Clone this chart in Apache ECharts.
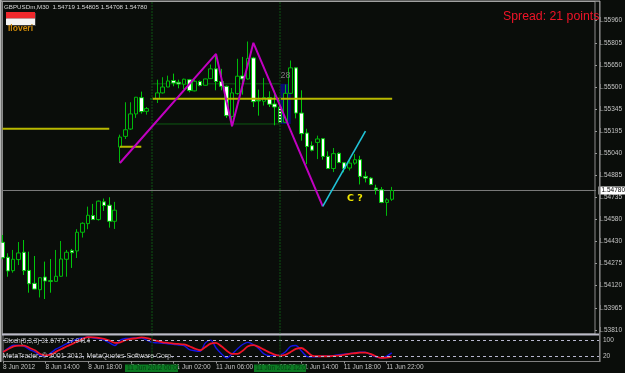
<!DOCTYPE html>
<html>
<head>
<meta charset="utf-8">
<style>html,body{margin:0;padding:0;background:#0a0d0a;overflow:hidden}#chart{width:625px;height:373px}</style>
<script src="https://cdn.jsdelivr.net/npm/echarts@6/dist/echarts.min.js"></script>
</head>
<body>
<div id="chart"></div>
<script>
// GBPUSDm M30 candles, one row per bar: open, close, low, high
const candles = [
[1.54420,1.54313,1.54302,1.54471],[1.54316,1.54221,1.54181,1.54344],[1.54223,1.54302,1.54209,1.54367],[1.54300,1.54346,1.54262,1.54422],
[1.54351,1.54223,1.54193,1.54436],[1.54225,1.54132,1.54070,1.54355],[1.54135,1.54095,1.54093,1.54325],[1.54091,1.54174,1.54037,1.54177],
[1.54179,1.54151,1.54026,1.54286],[1.54153,1.54149,1.54070,1.54304],[1.54149,1.54184,1.54147,1.54367],[1.54184,1.54304,1.54181,1.54429],
[1.54302,1.54351,1.54181,1.54367],[1.54362,1.54348,1.54242,1.54374],[1.54360,1.54490,1.54311,1.54511],[1.54490,1.54552,1.54453,1.54559],
[1.54550,1.54608,1.54511,1.54668],[1.54606,1.54578,1.54576,1.54687],[1.54578,1.54706,1.54571,1.54710],[1.54701,1.54675,1.54638,1.54724],
[1.54678,1.54566,1.54522,1.54733],[1.54566,1.54643,1.54513,1.54701],[1.55082,1.55151,1.54970,1.55168],[1.55156,1.55202,1.55138,1.55393],
[1.55207,1.55312,1.55202,1.55393],[1.55312,1.55428,1.55284,1.55430],[1.55425,1.55328,1.55314,1.55467],[1.55330,1.55349,1.55307,1.55360],
[1.55416,1.55416,1.55412,1.55420],[1.55418,1.55458,1.55388,1.55550],[1.55458,1.55499,1.55453,1.55567],[1.55499,1.55541,1.55497,1.55578],
[1.55544,1.55527,1.55504,1.55592],[1.55532,1.55520,1.55490,1.55550],[1.55518,1.55553,1.55485,1.55557],[1.55550,1.55474,1.55462,1.55555],
[1.55472,1.55539,1.55469,1.55550],[1.55537,1.55509,1.55504,1.55544],[1.55511,1.55555,1.55509,1.55557],[1.55557,1.55625,1.55555,1.55655],
[1.55625,1.55537,1.55476,1.55725],[1.55537,1.55504,1.55476,1.55625],[1.55504,1.55300,1.55284,1.55509],[1.55295,1.55458,1.55226,1.55492],
[1.55453,1.55574,1.55446,1.55695],[1.55576,1.55555,1.55446,1.55708],[1.55555,1.55697,1.55550,1.55815],[1.55701,1.55397,1.55360,1.55708],
[1.55407,1.55402,1.55300,1.55481],[1.55400,1.55425,1.55370,1.55562],[1.55425,1.55379,1.55360,1.55469],[1.55381,1.55360,1.55233,1.55474],
[1.55360,1.55254,1.55249,1.55423],[1.55254,1.55455,1.55249,1.55516],[1.55455,1.55632,1.55453,1.55683],[1.55632,1.55318,1.55281,1.55636],
[1.55318,1.55175,1.55126,1.55476],[1.55179,1.55086,1.54963,1.55209],[1.55091,1.55060,1.55052,1.55121],[1.55114,1.55138,1.54998,1.55161],
[1.55140,1.55017,1.54994,1.55145],[1.55017,1.54933,1.54929,1.55052],[1.54933,1.55036,1.54908,1.55075],[1.55038,1.54975,1.54970,1.55045],
[1.54973,1.54933,1.54906,1.54975],[1.54936,1.54970,1.54919,1.54994],[1.54970,1.54994,1.54959,1.55033],[1.54994,1.54878,1.54822,1.55021],
[1.54878,1.54866,1.54836,1.54912],[1.54866,1.54822,1.54817,1.54873],[1.54797,1.54785,1.54752,1.54820],[1.54785,1.54697,1.54692,1.54804],
[1.54697,1.54715,1.54604,1.54727],[1.54719,1.54780,1.54708,1.54805]
];

// Stochastic(5,3,3) main and signal lines
const stochMain = [35.4,50,60,59,56.4,44,35.4,21.8,19.4,31.7,46.5,56.4,66,75,84,87,91,87,85,79,69,59,79,85,86,87,87,79,71,69,67.5,66,64,61,59,44,40,38,69,79,
50,29,13.2,28,46.5,63,71,63,48,28,21.8,21.8,24.3,35.4,56.4,59,40,19.4,17,18,19.4,19.4,21.8,25.5,26.8,29,31.7,34,34,25.5,17,13.2,19.4,31.6777];
const stochSignal = [35.4,46.5,56.4,59,59,50,41.6,28,23,25.5,36.6,46.5,56.4,65,75,84,90,89,87,84,77.4,69,71,79,84,86,89,87,81,76,71,69,66,65,63,56.4,48,41.6,54,66,
69,56.4,40,28,28,40,56.4,61,54,44,34,25.5,21.8,24.3,35.4,46.5,50,38,21.8,19.4,19.4,19.4,20.6,21.8,24.3,28,30.5,33,33,28,19.4,13.2,14.4,17.9414];

// Hand-drawn analysis objects as [bar index, price]
const zigzag = [[22,1.54971],[40,1.55729],[43,1.55226],[47,1.55806],[60,1.54669]];
const waveC = [[60,1.54669],[68,1.55193]];
const levelA = [[0,1.55209],[20,1.55209]];
const levelB = [[22,1.55084],[26,1.55084]];
const levelC = [[28,1.55418],[73,1.55418]];
const boxTop = [[28,1.55521],[52,1.55521]];
const boxBottom = [[28,1.55242],[52,1.55242]];
const fibZone = {fromBar:'52', toBar:'54', high:1.55521, low:1.55242};

const lastPrice = 1.54780;
const separators = ['28','52'];
const priceTicks = [1.55960,1.55805,1.55650,1.55500,1.55345,1.55195,1.55040,1.54885,1.54735,1.54580,1.54430,1.54275,1.54120,1.53965,1.53810];
const stochLevels = [80,20];
const stochLevelText = {80:'100',20:'20'};
const timeLabels = {0:'8 Jun 2012',8:'8 Jun 14:00',16:'8 Jun 18:00',24:'8 Jun 22:00',32:'11 Jun 02:00',40:'11 Jun 06:00',48:'11 Jun 10:00',56:'11 Jun 14:00',64:'11 Jun 18:00',72:'11 Jun 22:00'};

// Bar slots, including the empty space to the right of the last candle.
// The candle axis keeps one extra slot of its own, so it lists one name fewer.
const categories = [];
for (let i = 0; i < 113; i++) categories.push(String(i));
const candleCategories = categories.slice(0, 112);

const FONT = '"Liberation Sans", Arial, sans-serif';
const BG = '#0a0d0a';
const GREY = '#c4c4c4';
const isLabelled = i => timeLabels[i] !== undefined;

function overlay(name, data, color, width, z) {
  return {name, type:'line', data, xAxisIndex:0, yAxisIndex:0, showSymbol:false, symbol:'none', connectNulls:true,
    silent:true, animation:false, z, lineStyle:{color, width, cap:'butt'}};
}
function vline(color) {
  return {silent:true, symbol:'none', animation:false, label:{show:false},
    lineStyle:{color, width:1.5, type:[2,1]}, data:separators.map(v => ({xAxis:v}))};
}
function text(x, y, str, size, color, extra) {
  return {type:'text', z:200, x, y, style:Object.assign({text:str, font:size+'px '+FONT, fill:color, textVerticalAlign:'middle'}, extra||{})};
}
function dateTag(x, width, str) {
  return [
    {type:'rect', z:190, shape:{x, y:364.5, width, height:7.5}, style:{fill:'#0b7a22'}},
    text(x+2, 368.5, str, 6.5, '#063d12')
  ];
}

const chart = echarts.init(document.getElementById('chart'), null, {renderer:'canvas'});
chart.setOption({
  animation:false,
  backgroundColor:BG,
  grid:[
    {left:2.5, width:597, top:1.5, height:332.5, show:true, backgroundColor:BG, borderColor:'#8c8c8c', borderWidth:1},
    {left:2.5, width:597, top:334.5, height:27, show:true, backgroundColor:BG, borderColor:'#808080', borderWidth:1}
  ],
  xAxis:[
    {type:'category', gridIndex:0, data:candleCategories, boundaryGap:false, axisLine:{show:false}, axisTick:{show:false}, axisLabel:{show:false}, splitLine:{show:false}},
    {type:'category', gridIndex:1, data:categories, boundaryGap:false, axisLine:{show:false},
      axisTick:{show:true, interval:isLabelled, length:2, lineStyle:{color:'#9a9a9a'}},
      axisLabel:{show:true, interval:isLabelled, align:'left', margin:2.5, color:GREY, fontFamily:FONT, fontSize:6.5, formatter:(v,i)=>timeLabels[i]||''},
      splitLine:{show:false}}
  ],
  yAxis:[
    {type:'value', gridIndex:0, position:'right', min:1.53783, max:1.56093, axisLine:{show:false},
      axisTick:{show:true, length:2, customValues:priceTicks, lineStyle:{color:'#9a9a9a'}},
      axisLabel:{show:true, customValues:priceTicks, margin:3.5, color:GREY, fontFamily:FONT, fontSize:6.5, formatter:v=>v.toFixed(5)},
      splitLine:{show:false}},
    {type:'value', gridIndex:1, position:'right', min:0, max:100, axisLine:{show:false},
      axisTick:{show:false},
      axisLabel:{show:true, customValues:stochLevels, margin:3.5, color:GREY, fontFamily:FONT, fontSize:6.5, formatter:v=>stochLevelText[v]},
      splitLine:{show:false}}
  ],
  series:[
    // Shaded zone and thin box lines sit underneath the candles
    {name:'zone', type:'line', data:[], xAxisIndex:0, yAxisIndex:0, z:1, silent:true,
      markArea:{silent:true, animation:false, itemStyle:{color:'#0a0a6e', opacity:1},
        data:[[{xAxis:fibZone.fromBar, yAxis:fibZone.high},{xAxis:fibZone.toBar, yAxis:fibZone.low}]]},
      markLine:vline('#0c3d10')},
    overlay('boxTop', boxTop, '#0d5a12', 1, 1),
    overlay('boxBottom', boxBottom, '#0d5a12', 1, 1),
    Object.assign(overlay('lastPrice', [[0,lastPrice],[112,lastPrice]], '#7c7c7c', 1, 2), {
      endLabel:{show:true, formatter:lastPrice.toFixed(5), color:'#000', backgroundColor:'#fff', fontFamily:FONT, fontSize:6.5,
        padding:[0.5,0,0.5,3], distance:2.5}
    }),
    {name:'GBPUSDm', type:'candlestick', xAxisIndex:0, yAxisIndex:0, data:candles, barWidth:4, clip:false, z:3, silent:true, animation:false,
      itemStyle:{color:BG, color0:'#ffffff', borderColor:'#00b80a', borderColor0:'#00c80a', borderColorDoji:'#00b80a', borderWidth:1}},
    overlay('levelA', levelA, '#b8b800', 2, 4),
    overlay('levelB', levelB, '#b8b800', 2, 4),
    overlay('levelC', levelC, '#b8b800', 2, 4),
    overlay('zigzag', zigzag, '#c000c0', 2, 5),
    overlay('waveC', waveC, '#20c4d8', 1.6, 5),
    // Stochastic panel
    {name:'levels', type:'line', data:[], xAxisIndex:1, yAxisIndex:1, z:1, silent:true,
      markLine:{silent:true, symbol:'none', animation:false, label:{show:false},
        lineStyle:{color:'#b8b8d0', width:1, type:[3,3]}, data:stochLevels.map(v=>({yAxis:v}))}},
    {name:'separators', type:'line', data:[], xAxisIndex:1, yAxisIndex:1, z:1, silent:true, markLine:vline('#0c3d10')},
    {name:'stochMain', type:'line', xAxisIndex:1, yAxisIndex:1, data:stochMain, showSymbol:false, symbol:'none', smooth:0.3, z:3, silent:true, lineStyle:{color:'#1414e6', width:1.4}},
    {name:'stochSignal', type:'line', xAxisIndex:1, yAxisIndex:1, data:stochSignal, showSymbol:false, symbol:'none', smooth:0.3, z:4, silent:true, lineStyle:{color:'#f01428', width:1.8}}
  ],
  graphic:[
    // Panel divider and window edge
    {type:'rect', z:150, shape:{x:2, y:333.5, width:598, height:2}, style:{fill:'#bcbcc8'}},
    {type:'rect', z:150, shape:{x:599, y:1, width:1.6, height:361}, style:{fill:'#808080'}},
    {type:'rect', z:150, shape:{x:0, y:0, width:1.6, height:362}, style:{fill:'#b8b8b8'}},
    {type:'rect', z:150, shape:{x:0, y:0.5, width:600, height:1.2}, style:{fill:'#a8a8a8'}},
    // Flag badge
    {type:'rect', z:180, shape:{x:7, y:13, width:29, height:13}, style:{fill:'#3c3c3c'}},
    {type:'rect', z:181, shape:{x:6, y:12, width:29, height:6.5}, style:{fill:'#f0282c'}},
    {type:'rect', z:181, shape:{x:6, y:18.5, width:29, height:6.5}, style:{fill:'#f4f4f4'}},
    text(8, 29, 'Iloveri', 8.5, '#c8860a', {font:'bold 8.5px '+FONT}),
    // Header and indicator captions
    text(4, 7, 'GBPUSDm,M30  1.54719 1.54805 1.54708 1.54780', 6.2, '#d8d8d8'),
    text(503, 16.5, 'Spread: 21 points', 12.3, '#f01428'),
    text(280.5, 76, '28', 9, '#7a7a7a'),
    text(347, 199, 'C ?', 9.5, '#f0e600', {font:'bold 9.5px "DejaVu Sans", sans-serif'}),
    text(4, 341, 'Stoch(5,3,3) 31.6777 17.9414', 6.5, GREY),
    text(2.5, 356, 'MetaTrader, \u00a9 2001-2012, MetaQuotes Software Corp.', 7, GREY)
  ].concat(dateTag(125, 53, '11 Jun 2012 00:00')).concat(dateTag(254, 52, '11 Jun 2012 12:00'))
});
</script>
</body>
</html>
